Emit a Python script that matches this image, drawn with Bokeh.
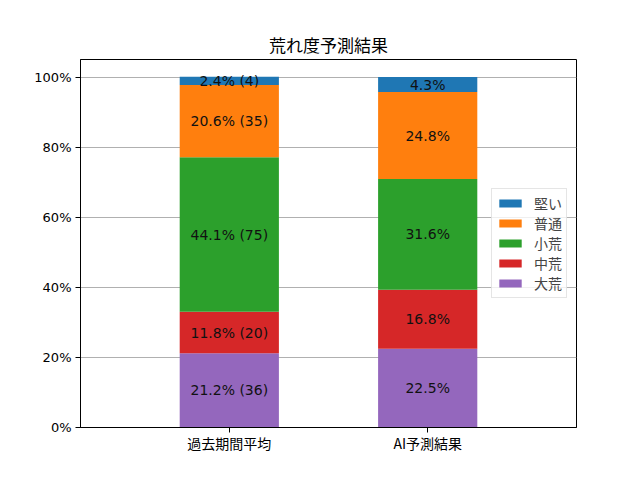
from bokeh.plotting import figure
from bokeh.models import FactorRange, Range1d, FixedTicker, Legend, LegendItem, ColumnDataSource
from bokeh.core.properties import value
from bokeh.embed import file_html
from bokeh.resources import INLINE

categories = ["過去期間平均", "AI予測結果"]
levels = ["大荒", "中荒", "小荒", "普通", "堅い"]
colors = ["#9467bd", "#d62728", "#2ca02c", "#ff7f0e", "#1f77b4"]
past_pct = [21.2, 11.8, 44.1, 20.6, 2.4]
past_cnt = [36, 20, 75, 35, 4]
ai_pct = [22.5, 16.8, 31.6, 24.8, 4.3]
y_ticks = [0, 20, 40, 60, 80, 100]

CJK = "Noto Sans CJK JP"
LAT = "DejaVu Sans"

p = figure(x_range=FactorRange(factors=categories, range_padding=0.25, range_padding_units="absolute"),
           y_range=Range1d(0, 105),
           frame_width=496, frame_height=368,
           min_border_left=80, min_border_top=59, min_border_right=56, min_border_bottom=45,
           output_backend="svg", toolbar_location=None, title="荒れ度予測結果")
p.title.align = "center"
p.title.text_font = CJK
p.title.text_font_style = "normal"
p.title.text_font_size = "17px"
p.title.text_color = "black"
p.title.standoff = 5

data = {"cat": categories}
for lv, a, b in zip(levels, past_pct, ai_pct):
    data[lv] = [a, b]
src = ColumnDataSource(data)
renderers = p.vbar_stack(levels, x="cat", width=0.5, color=colors, source=src, line_color=None)

# labels
xs, ys, texts = [], [], []
for ci, (pcts, cnts) in enumerate([(past_pct, past_cnt), (ai_pct, None)]):
    base = 0.0
    for i, v in enumerate(pcts):
        xs.append(categories[ci])
        ys.append(base + v / 2)
        texts.append(f"{v:.1f}% ({cnts[i]})" if cnts else f"{v:.1f}%")
        base += v
p.text(x=xs, y=ys, text=texts, text_align="center", text_baseline="middle",
       text_font=value(LAT), text_font_size="14px", text_color="#111111")

p.xgrid.grid_line_color = None
p.ygrid.ticker = FixedTicker(ticks=y_ticks)
p.ygrid.grid_line_color = "#b0b0b0"
p.ygrid.grid_line_width = 1

p.yaxis.ticker = FixedTicker(ticks=y_ticks)
p.yaxis.major_label_overrides = {t: f"{t}%" for t in y_ticks}
for ax in [p.xaxis, p.yaxis]:
    ax.major_label_text_color = "black"
    ax.axis_line_color = "black"
    ax.major_tick_line_color = "black"
    ax.major_tick_out = 5
    ax.major_tick_in = 0
    ax.minor_tick_line_color = None
    ax.major_label_standoff = 4
p.yaxis.major_label_text_font = LAT
p.yaxis.major_label_text_font_size = "13px"
p.xaxis.major_label_text_font = CJK
p.xaxis.major_label_text_font_size = "14px"
p.xaxis.major_label_standoff = 0
p.xaxis.group_text_font_size = "0px"

p.outline_line_color = "black"
p.outline_line_alpha = 1
p.outline_line_width = 1

items = [LegendItem(label=lv, renderers=[r]) for lv, r in zip(levels, renderers)][::-1]
legend = Legend(items=items, location=(411, 129), orientation="vertical")
legend.label_text_font = CJK
legend.label_text_font_size = "14px"
legend.glyph_width = 28
legend.glyph_height = 10
legend.label_height = 15
legend.spacing = 0
legend.padding = 4
legend.margin = 0
legend.label_standoff = 10
legend.border_line_color = "#cccccc"
legend.border_line_width = 1
legend.background_fill_alpha = 0.8
p.add_layout(legend, "center")

open("out.html", "w").write(file_html(p, INLINE))
